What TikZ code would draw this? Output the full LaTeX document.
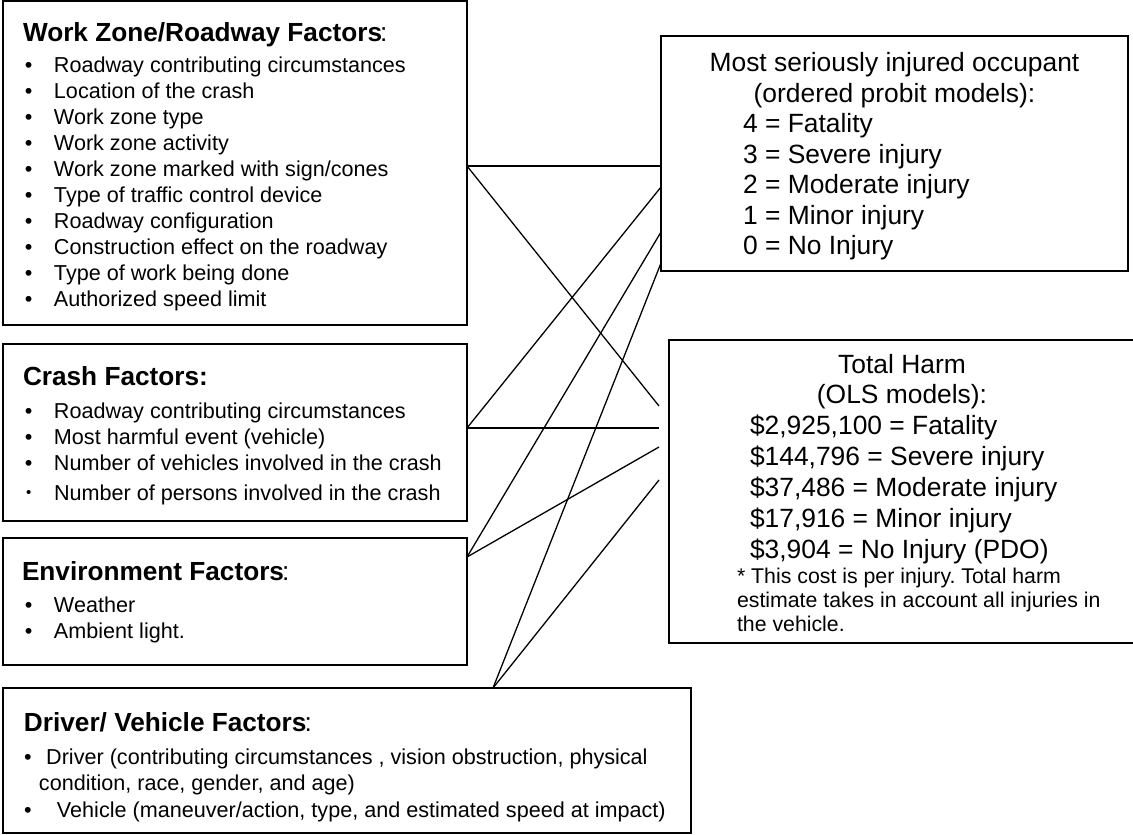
\documentclass[tikz,border=0pt]{standalone}
\usepackage{fontspec}
\setmainfont{Liberation Sans}
\usetikzlibrary{positioning}
\frenchspacing
\newcommand{\fttl}{\fontsize{13.1}{15}\selectfont\bfseries}
\newcommand{\tcolon}{\kern-1pt\textmd{:}}
\newcommand{\fnote}{\fontsize{10.65}{12}\selectfont}
\newcommand{\fitem}[1]{\hspace*{11pt}\makebox[14.5pt][l]{\textbullet}#1}
\tikzset{
  fbox/.style={draw, line width=1.1pt, outer sep=0pt, inner sep=0pt, align=flush left,
               anchor=north west, font=\fontsize{10.8}{13}\selectfont},
  obox/.style={fbox, font=\fontsize{13.2}{15.25}\selectfont},
  ln/.style={line width=0.65pt},
}
\begin{document}
\begin{tikzpicture}
  \useasboundingbox (0,0) rectangle (566.5pt,-417pt);
  \node[fbox, text width=232pt, text height=20.5pt, text depth=141.5pt] (wz) at (1.5pt,-0.5pt)
    {\hspace*{10pt}{\fttl Work Zone/Roadway Factors\tcolon}\\[2.5pt]
     \fitem{Roadway contributing circumstances}\\
     \fitem{Location of the crash}\\
     \fitem{Work zone type}\\
     \fitem{Work zone activity}\\
     \fitem{Work zone marked with sign/cones}\\
     \fitem{Type of traffic control device}\\
     \fitem{Roadway configuration}\\
     \fitem{Construction effect on the roadway}\\
     \fitem{Type of work being done}\\
     \fitem{Authorized speed limit}};
  \node[fbox, below=9.5pt of wz.south west, anchor=north west, text width=232pt,
        text height=20.5pt, text depth=68pt] (cr)
    {\hspace*{10pt}{\fttl Crash Factors:}\\[3.5pt]
     \fitem{Roadway contributing circumstances}\\
     \fitem{Most harmful event (vehicle)}\\
     \fitem{Number of vehicles involved in the crash}\\[2pt]
     \hspace*{11.6pt}\makebox[13.9pt][l]{\raisebox{1.3pt}{\fontsize{7.5}{7.5}\selectfont\textbullet}}Number of persons involved in the crash};
  \node[fbox, below=8.5pt of cr.south west, anchor=north west, text width=232pt,
        text height=21pt, text depth=42.5pt] (env)
    {\hspace*{9.5pt}{\fttl Environment Factors\tcolon}\\[3pt]
     \fitem{Weather}\\
     \fitem{Ambient light.}};
  \node[fbox, below=11.5pt of env.south west, anchor=north west, text width=344pt,
        text height=21.5pt, text depth=51pt, font=\fontsize{10.8}{13.25}\selectfont] (drv)
    {\hspace*{10.5pt}{\fttl Driver/ Vehicle Factors\tcolon}\\[3.25pt]
     \hspace*{10.6pt}\makebox[11pt][l]{\textbullet}Driver (contributing circumstances , vision obstruction, physical\\
     \hspace*{18pt}condition, race, gender, and age)\\
     \hspace*{10.6pt}\makebox[16.4pt][l]{\textbullet}Vehicle (maneuver/action, type, and estimated speed at impact)};
  \node[obox, text width=233.5pt, text height=18pt, text depth=99.5pt] (msi) at (330.5pt,-18pt)
    {\makebox[\linewidth]{Most seriously injured occupant}\\
     \makebox[\linewidth]{(ordered probit models):}\\
     \hspace*{41pt}4 = Fatality\\
     \hspace*{41pt}3 = Severe injury\\
     \hspace*{41pt}2 = Moderate injury\\
     \hspace*{41pt}1 = Minor injury\\
     \hspace*{41pt}0 = No Injury};
  \node[obox, text width=233pt, text height=16.5pt, text depth=135pt,
        font=\fontsize{13.2}{15.45}\selectfont] (th) at (334.5pt,-170pt)
    {\makebox[\linewidth]{Total Harm}\\
     \makebox[\linewidth]{(OLS models):}\\
     \hspace*{40.5pt}\$2,925,100 = Fatality\\
     \hspace*{40.5pt}\$144,796 = Severe injury\\
     \hspace*{40.5pt}\$37,486 = Moderate injury\\
     \hspace*{40.5pt}\$17,916 = Minor injury\\
     \hspace*{40.5pt}\$3,904 = No Injury (PDO)\\[-2.95pt]
     {\fnote\hspace*{34pt}* This cost is per injury. Total harm}\\[-3.45pt]
     {\fnote\hspace*{34pt}estimate takes in account all injuries in}\\[-3.45pt]
     {\fnote\hspace*{34pt}the vehicle.}};
  \coordinate (wzR) at ([yshift=-82.5pt]wz.north east);
  \coordinate (crR) at ([yshift=-42pt]cr.north east);
  \coordinate (envR) at ([yshift=-9.5pt]env.north east);
  \coordinate (drvT) at ([xshift=245pt]drv.north west);
  \draw[ln] (wzR) -- ([yshift=-65pt]msi.north west);
  \draw[ln] (wzR) -- ([xshift=-5pt,yshift=-33pt]th.north west);
  \draw[ln] (crR) -- ([yshift=-75.5pt]msi.north west);
  \draw[ln] (crR) -- ([xshift=-5pt,yshift=-44pt]th.north west);
  \draw[ln] (envR) -- ([yshift=-98pt]msi.north west);
  \draw[ln] (envR) -- ([xshift=-5pt,yshift=-53.5pt]th.north west);
  \draw[ln] (drvT) -- ([yshift=-113.5pt]msi.north west);
  \draw[ln] (drvT) -- ([xshift=-5pt,yshift=-70pt]th.north west);
\end{tikzpicture}
\end{document}
